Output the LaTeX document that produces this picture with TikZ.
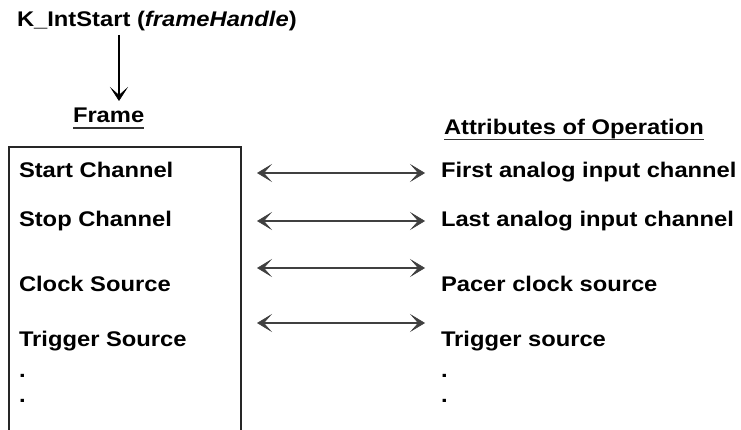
\documentclass[tikz,border=0pt]{standalone}
\usepackage{fontspec}
\setmainfont[FakeStretch=1.12]{Liberation Sans}
\usetikzlibrary{arrows.meta}
\tikzset{
  lbl/.style={anchor=base west, inner sep=0pt, outer sep=0pt, font=\fontsize{21.2pt}{25pt}\selectfont\bfseries, text=black},
  ulbar/.style={line width=1.5pt, black!80},
  framebox/.style={line width=1.2pt, black!85},
  tipA/.tip={Stealth[length=15pt,width=18pt,inset=8pt,line width=0.6pt]},
  linkarrow/.style={line width=1.5pt, black!75, tipA-tipA},
  downarrow/.style={line width=1.2pt, black, -{Stealth[length=14pt,width=18pt,inset=8pt,line width=0.6pt]}}
}
\begin{document}
\begin{tikzpicture}[x=1pt,y=-1pt]
\useasboundingbox (0,0) rectangle (741,430);
\fill[white] (0,0) rectangle (741,430);

% title and arrow
\node[lbl] (title) at (17,27) {K\_IntStart (\textit{frameHandle})};
\coordinate (dtop) at (119,35);
\coordinate (dbot) at (119,101);
\draw[downarrow] (dtop) -- (dbot);

% headings
\node[lbl] (frame) at (73,123) {Frame};
\draw[ulbar] ([yshift=-5pt]frame.base west) -- ([yshift=-5pt]frame.base east);
\node[lbl] (attr) at (444,135) {Attributes of Operation};
\draw[ulbar] ([yshift=-4.5pt]attr.base west) -- ([yshift=-4.5pt]attr.base east);

% frame box (open at bottom)
\coordinate (bl) at (9,432);
\coordinate (tl) at (9,147);
\coordinate (tr) at (241,147);
\coordinate (br) at (241,432);
\draw[framebox] (bl) -- (tl) -- (tr) -- (br);

% left column
\node[lbl] (l1) at (19,178) {Start Channel};
\node[lbl] (l2) at (19,227) {Stop Channel};
\node[lbl] (l3) at (19,291) {Clock Source};
\node[lbl] (l4) at (19,346) {Trigger Source};
\node[lbl] (ld1) at (19,377) {.};
\node[lbl] (ld2) at (19,402) {.};

% right column
\node[lbl] (r1) at (441,178) {First analog input channel};
\node[lbl] (r2) at (441,227) {Last analog input channel};
\node[lbl] (r3) at (441,291) {Pacer clock source};
\node[lbl] (r4) at (441,346) {Trigger source};
\node[lbl] (rd1) at (441,377) {.};
\node[lbl] (rd2) at (441,402) {.};

% link arrows
\coordinate (a1l) at (257,173); \coordinate (a1r) at (425,173);
\coordinate (a2l) at (257,221); \coordinate (a2r) at (425,221);
\coordinate (a3l) at (257,268); \coordinate (a3r) at (425,268);
\coordinate (a4l) at (257,323); \coordinate (a4r) at (425,323);
\draw[linkarrow] (a1l) -- (a1r);
\draw[linkarrow] (a2l) -- (a2r);
\draw[linkarrow] (a3l) -- (a3r);
\draw[linkarrow] (a4l) -- (a4r);
\end{tikzpicture}
\end{document}
